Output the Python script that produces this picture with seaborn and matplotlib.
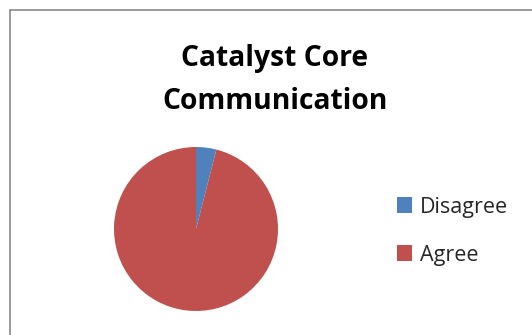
import matplotlib
matplotlib.use("Agg")
import matplotlib.pyplot as plt
from matplotlib.patches import Rectangle, Patch
import seaborn as sns

# Survey responses
categories = ["Disagree", "Agree"]
counts = [1, 24]
colors = ["#4F81BD", "#C0504D"]
title = "Catalyst Core\nCommunication"

sns.set_theme(style="white")
plt.rcParams["font.family"] = ["Open Sans", "DejaVu Sans"]

W, H = 532, 335
fig = plt.figure(figsize=(W / 100, H / 100), dpi=100)
fig.patch.set_facecolor("white")

# Chart frame (top and left edges visible)
frame = Rectangle((9.5 / W, -0.1), 1.2, (H - 9.5) / H + 0.1,
                  transform=fig.transFigure, fill=False,
                  edgecolor="#7f7f7f", linewidth=1.1)
fig.add_artist(frame)

# Pie axes: centre (196, 229) px, radius 82 px
cx, cy, r = 196, 229, 82
ax = fig.add_axes([(cx - r) / W, (H - cy - r) / H, 2 * r / W, 2 * r / H])
ax.pie(counts, colors=colors, startangle=90, counterclock=False,
       radius=1, wedgeprops=dict(linewidth=0))
ax.set_xlim(-1, 1)
ax.set_ylim(-1, 1)
ax.set_aspect("equal")
ax.axis("off")

fig.text(275 / W, 1 - 109 / H, title, ha="center", va="baseline",
         fontsize=20.3, fontweight="bold", color="black", linespacing=1.62)

handles = [Patch(facecolor=c, edgecolor="none") for c in colors]
fig.legend(handles, categories, loc="upper left",
           bbox_to_anchor=(388 / W, 1 - 188 / H),
           frameon=False, fontsize=15.5, handlelength=0.72, handleheight=0.72,
           handletextpad=0.38, labelspacing=1.25, borderaxespad=0)

fig.savefig("out.png", dpi=100, facecolor="white")
